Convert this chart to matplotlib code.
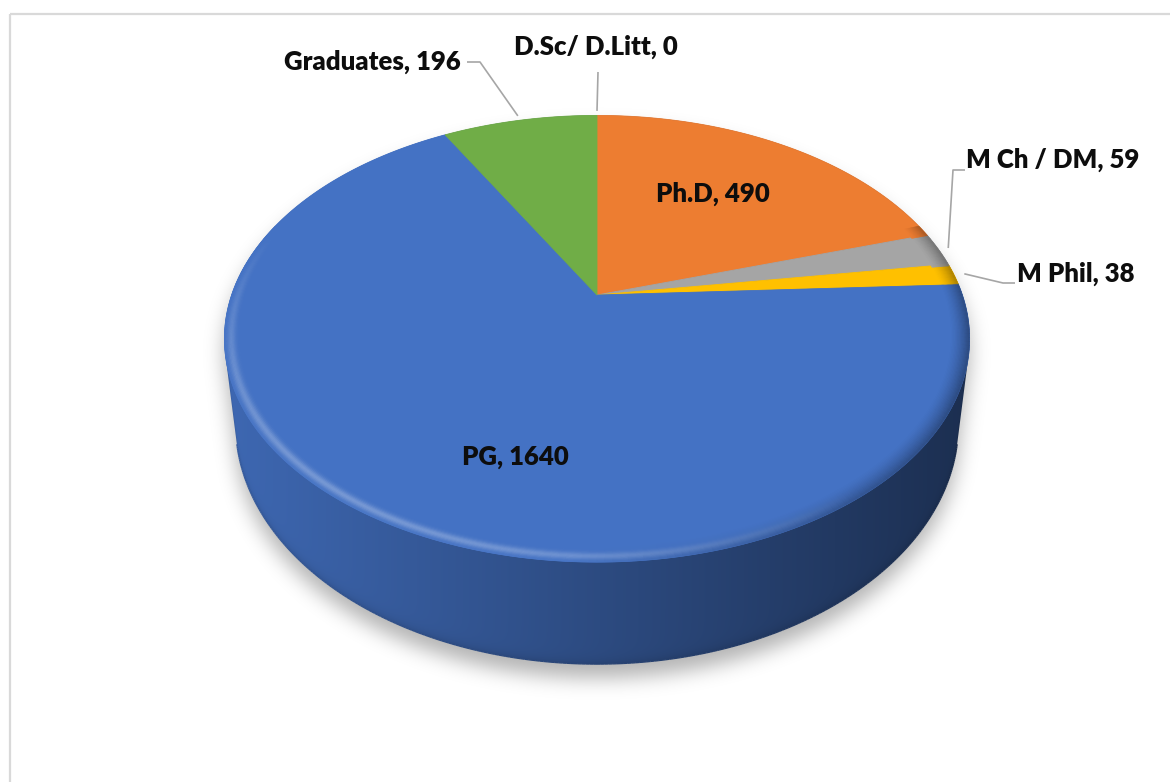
import numpy as np
import matplotlib
matplotlib.use("Agg")
import matplotlib.pyplot as plt
from matplotlib.collections import PolyCollection, LineCollection
from matplotlib.patches import Rectangle, Polygon
from matplotlib.path import Path
from matplotlib.colors import to_rgb

# ---- data (clockwise from 12 o'clock) ----
categories = ["Ph.D", "M Ch / DM", "M Phil", "PG", "Graduates", "D.Sc/ D.Litt"]
values = [490, 59, 38, 1640, 196, 0]
colors = ["#ED7D31", "#A5A5A5", "#FFC000", "#4472C4", "#70AD47", "#5B9BD5"]

W, H = 1170, 782
fig = plt.figure(figsize=(W / 100, H / 100), dpi=100)
ax = fig.add_axes([0, 0, 1, 1])
ax.set_xlim(0, W)
ax.set_ylim(H, 0)
ax.axis("off")

# ---- simple perspective camera for the disc ----
ELEV = np.deg2rad(36.0)
CE, SE = np.cos(ELEV), np.sin(ELEV)
DIST = 4.13
FOCAL = 1509.0
CX, CY = 597.0, 295.0
WALL = 102.0      # wall height (px) at the front
TAPER = 0.03


def top_pt(r, t):
    x = r * np.cos(t)
    y = r * np.sin(t)
    z = DIST + y * CE
    return CX + FOCAL * x / z, CY - FOCAL * y * SE / z


def bottom_pt(t):
    sx, sy = top_pt(1.0, t)
    z = DIST + np.sin(t) * CE
    return CX + (sx - CX) * (1 - TAPER), sy + WALL * (DIST - CE) / z


total = float(sum(values))
bounds = np.concatenate([[0.0], np.cumsum(values)]) / total * 2 * np.pi


def wedge_at(t):
    phi = (np.pi / 2 - t) % (2 * np.pi)
    i = np.searchsorted(bounds, phi, side="right") - 1
    return int(min(i, len(values) - 1))


def convex_hull(p):
    p = sorted(set(map(tuple, np.round(p, 3))))

    def cross(o, a, b):
        return (a[0] - o[0]) * (b[1] - o[1]) - (a[1] - o[1]) * (b[0] - o[0])

    lower, upper = [], []
    for q in p:
        while len(lower) >= 2 and cross(lower[-2], lower[-1], q) <= 0:
            lower.pop()
        lower.append(q)
    for q in reversed(p):
        while len(upper) >= 2 and cross(upper[-2], upper[-1], q) <= 0:
            upper.pop()
        upper.append(q)
    return np.array(lower), np.array(upper), np.array(lower[:-1] + upper[:-1])


tt = np.linspace(0, 2 * np.pi, 721)
top_xy = np.column_stack(top_pt(1.0, tt))
bot_xy = np.column_stack(bottom_pt(tt))
chain_a, chain_b, hull = convex_hull(np.vstack([top_xy, bot_xy]))
hull_set = set(map(tuple, np.round(hull, 3)))
# the chain with the larger screen y is the bottom silhouette
bottom_chain = chain_a if chain_a[:, 1].mean() > chain_b[:, 1].mean() else chain_b
bottom_chain = bottom_chain[np.argsort(bottom_chain[:, 0])]

# ---- soft drop shadow ----
yy, xx = np.mgrid[0:H, 0:W] + 0.5
pts = np.column_stack([xx.ravel(), yy.ravel()])
mask = Path(hull).contains_points(pts).reshape(H, W).astype(float)
mask = np.roll(mask, 14, axis=0)
mask[:14] = 0


def blur(a, s):
    k = np.exp(-0.5 * (np.arange(-3 * s, 3 * s + 1) / s) ** 2)
    k /= k.sum()
    a = np.apply_along_axis(lambda m: np.convolve(m, k, mode="same"), 0, a)
    a = np.apply_along_axis(lambda m: np.convolve(m, k, mode="same"), 1, a)
    return a


sh = blur(mask, 10)
rgba = np.zeros((H, W, 4))
rgba[..., 3] = 0.30 * sh
ax.imshow(rgba, extent=(0, W, H, 0), zorder=1, interpolation="bilinear")

# ---- side wall: shaded image clipped to the disc silhouette ----
xc = xx[0]
ybot = np.interp(xc, bottom_chain[:, 0], bottom_chain[:, 1])
u = np.clip((xc - CX) / (bottom_chain[:, 0].max() - CX), -1, 1)
t_col = -np.arccos(u)
col_rgb = np.array([to_rgb(colors[wedge_at(t)]) for t in t_col])
shade = 0.66 - 0.25 * u
wall_img = np.ones((H, W, 4))
dist_to_bottom = np.clip(ybot[None, :] - yy, 0, None)
edge_dark = 1 - 0.12 * np.exp(-dist_to_bottom / 5.0)
wall_img[..., :3] = np.clip(col_rgb[None, :, :] * (shade[None, :, None]) * edge_dark[..., None], 0, 1)
im = ax.imshow(wall_img, extent=(0, W, H, 0), zorder=2, interpolation="bilinear")
clip_poly = Polygon(hull, closed=True, transform=ax.transData, fc="none", ec="none")
ax.add_patch(clip_poly)
im.set_clip_path(clip_poly)

# antialiased edge along the part of the bottom outline that forms the silhouette
segs, scol = [], []
for k in range(len(tt) - 1):
    a, b = tt[k], tt[k + 1]
    if np.sin(0.5 * (a + b)) >= 0:
        continue
    pa = tuple(np.round(bot_xy[k], 3))
    pb = tuple(np.round(bot_xy[k + 1], 3))
    if pa not in hull_set or pb not in hull_set:
        continue
    tm = 0.5 * (a + b)
    base = np.array(to_rgb(colors[wedge_at(tm)]))
    c = np.clip(base * (0.66 - 0.25 * np.cos(tm)) * 0.9, 0, 1)
    segs.append([bot_xy[k], bot_xy[k + 1]])
    scol.append(c)
ax.add_collection(LineCollection(segs, colors=scol, linewidths=1.0, zorder=2.5))

# ---- top face ----
for i, v in enumerate(values):
    if v <= 0:
        continue
    t0 = np.pi / 2 - bounds[i]
    t1 = np.pi / 2 - bounds[i + 1]
    n = max(4, int(np.degrees(t0 - t1) * 2))
    arc = np.linspace(t0, t1, n)
    xs, ys = top_pt(1.0, arc)
    poly = [(CX, CY)] + list(zip(xs, ys))
    ax.add_patch(Polygon(poly, closed=True, fc=colors[i], ec=colors[i], lw=0.6, zorder=3))

# ---- bevel along the front rim ----
rs = np.linspace(0.95, 1.0, 16)
band_t = np.deg2rad(np.arange(160, 380.01, 1.0))
bpolys, bcols = [], []
for j in range(len(rs) - 1):
    r0, r1 = rs[j], rs[j + 1]
    rm = 0.5 * (r0 + r1)
    w_hi = np.exp(-((rm - 0.983) / 0.011) ** 2)
    w_dk = ((rm - 0.95) / 0.05) ** 1.5
    for a, b in zip(band_t[:-1], band_t[1:]):
        tm = 0.5 * (a + b)
        base = np.array(to_rgb(colors[wedge_at(tm)]))
        hl = np.clip((np.cos(tm - np.deg2rad(235)) - 0.3) / 0.7, 0, 1)
        dk = np.clip((np.cos(tm - np.deg2rad(345)) - 0.2) / 0.8, 0, 1)
        c = base + (1 - base) * 0.28 * hl * w_hi
        c = c * (1 - 0.35 * dk * w_dk)
        bpolys.append([top_pt(r0, a), top_pt(r0, b), top_pt(r1, b), top_pt(r1, a)])
        bcols.append(np.clip(c, 0, 1))
ax.add_collection(PolyCollection(bpolys, facecolors=bcols, edgecolors=bcols,
                                 linewidths=0.4, zorder=4))

# ---- chart-area border ----
ax.add_patch(Rectangle((10, 14), W, H, fill=False, ec="#D9D9D9", lw=1.6, zorder=0.5))

# ---- data labels and leader lines ----
label_pos = {
    "Ph.D": (713, 202),
    "M Ch / DM": (1053, 168),
    "M Phil": (1076, 282),
    "PG": (515, 465),
    "Graduates": (372, 70),
    "D.Sc/ D.Litt": (596, 55),
}
leader_elbows = {
    "Graduates": [(467, 62), (480, 62)],
    "D.Sc/ D.Litt": [(598, 72)],
    "M Ch / DM": [(965, 170), (953, 170)],
    "M Phil": [(1015, 283), (1003, 283)],
}
font = dict(family=["Lato", "DejaVu Sans"], fontweight="heavy", fontsize=18.5, color="#0D0D0D")
for i, (cat, v) in enumerate(zip(categories, values)):
    x, y = label_pos[cat]
    ax.text(x, y, f"{cat}, {v}", ha="center", va="baseline", zorder=7, **font)
    if cat in leader_elbows:
        tm = np.pi / 2 - 0.5 * (bounds[i] + bounds[i + 1])
        anchor = top_pt(1.03, tm)
        path = leader_elbows[cat] + [anchor]
        px, py = zip(*path)
        ax.plot(px, py, color="#A6A6A6", lw=1.2, zorder=6, solid_capstyle="butt")

fig.savefig("out.png", dpi=100)
